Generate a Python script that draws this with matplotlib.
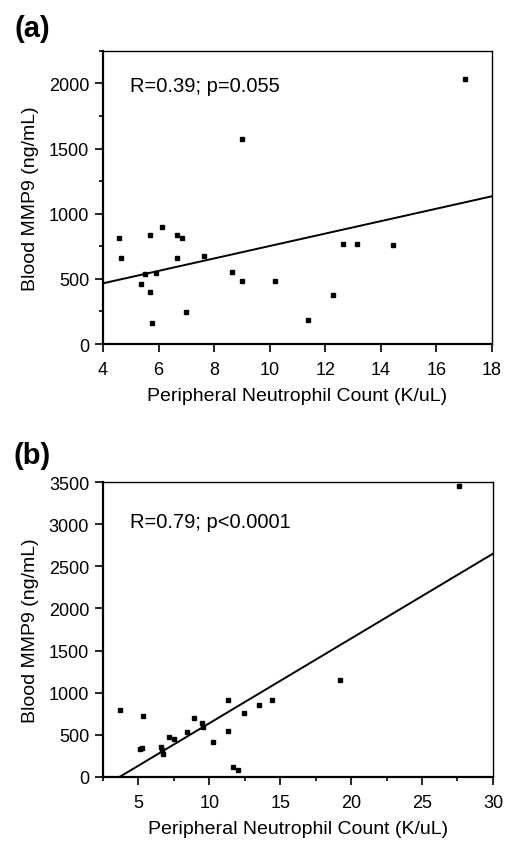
import matplotlib.pyplot as plt
import numpy as np
from matplotlib.ticker import MultipleLocator

plt.rcParams['font.family'] = ['Liberation Sans', 'DejaVu Sans']

# panel (a): neutrophil count vs blood MMP9
xa = [17.04, 9.02, 4.56, 4.63, 5.68, 6.14, 6.67, 6.86, 6.67, 7.62, 5.50, 5.92,
      5.38, 5.68, 5.78, 6.98, 8.63, 9.02, 10.20, 11.38, 12.27, 12.63, 13.15, 14.44]
ya = [2036, 1571, 810, 659, 835, 899, 835, 810, 659, 672, 536, 547,
      460, 396, 158, 248, 549, 485, 485, 184, 373, 771, 771, 761]
# fitted line (slope, intercept)
fit_a = (47.7, 275)
stat_a = "R=0.39; p=0.055"

# panel (b)
xb = [27.6, 19.25, 3.71, 5.35, 11.29, 13.50, 14.41, 12.44, 8.90, 9.48, 9.58, 8.45,
      7.18, 7.51, 11.29, 10.28, 5.12, 5.22, 6.57, 6.64, 6.71, 11.64, 11.99]
yb = [3450, 1147, 799, 720, 918, 858, 918, 763, 704, 645, 589, 530,
      471, 451, 550, 411, 336, 350, 352, 316, 277, 123, 83]
fit_b = (100.6, -368)
stat_b = "R=0.79; p<0.0001"

fig = plt.figure(figsize=(5.11, 8.45), dpi=100)
ax1 = fig.add_axes([0.2016, 0.5917, 0.761, 0.347])
ax2 = fig.add_axes([0.2016, 0.0793, 0.763, 0.349])


def style(ax):
    for s in ['left', 'bottom']:
        ax.spines[s].set_linewidth(1.6)
    for s in ['top', 'right']:
        ax.spines[s].set_linewidth(1.0)
    ax.tick_params(which='major', direction='out', length=6, width=1.2,
                   labelsize=13, top=False, right=False, pad=4)
    ax.tick_params(axis='x', which='major', pad=6)
    ax.tick_params(which='minor', direction='out', length=3, width=1.2,
                   top=False, right=False)


# (a)
ax1.plot(xa, ya, 's', color='black', markersize=3)
lx = np.array([4, 18])
ax1.plot(lx, fit_a[0] * lx + fit_a[1], color='black', lw=1.4)
ax1.set_xlim(4, 18)
ax1.set_ylim(0, 2250)
ax1.xaxis.set_major_locator(MultipleLocator(2))
ax1.yaxis.set_major_locator(MultipleLocator(500))
ax1.yaxis.set_minor_locator(MultipleLocator(250))
ax1.set_xlabel("Peripheral Neutrophil Count (K/uL)", fontsize=14, labelpad=7)
ax1.set_ylabel("Blood MMP9 (ng/mL)", fontsize=14, labelpad=7)
ax1.text(0.07, 0.88, stat_a, transform=ax1.transAxes, fontsize=14.5, va='center')
style(ax1)

# (b)
ax2.plot(xb, yb, 's', color='black', markersize=3)
lx = np.array([2.5, 30])
ax2.plot(lx, fit_b[0] * lx + fit_b[1], color='black', lw=1.4)
ax2.set_xlim(2.5, 30)
ax2.set_ylim(0, 3500)
ax2.xaxis.set_major_locator(MultipleLocator(5))
ax2.xaxis.set_minor_locator(MultipleLocator(2.5))
ax2.yaxis.set_major_locator(MultipleLocator(500))
ax2.set_xlabel("Peripheral Neutrophil Count (K/uL)", fontsize=14, labelpad=7)
ax2.set_ylabel("Blood MMP9 (ng/mL)", fontsize=14, labelpad=7)
ax2.text(0.07, 0.865, stat_b, transform=ax2.transAxes, fontsize=14.5, va='center')
style(ax2)

fig.text(0.029, 0.966, "(a)", fontsize=21, fontweight='bold', va='center')
fig.text(0.026, 0.4604, "(b)", fontsize=21, fontweight='bold', va='center')

fig.savefig("out.png", dpi=100)
